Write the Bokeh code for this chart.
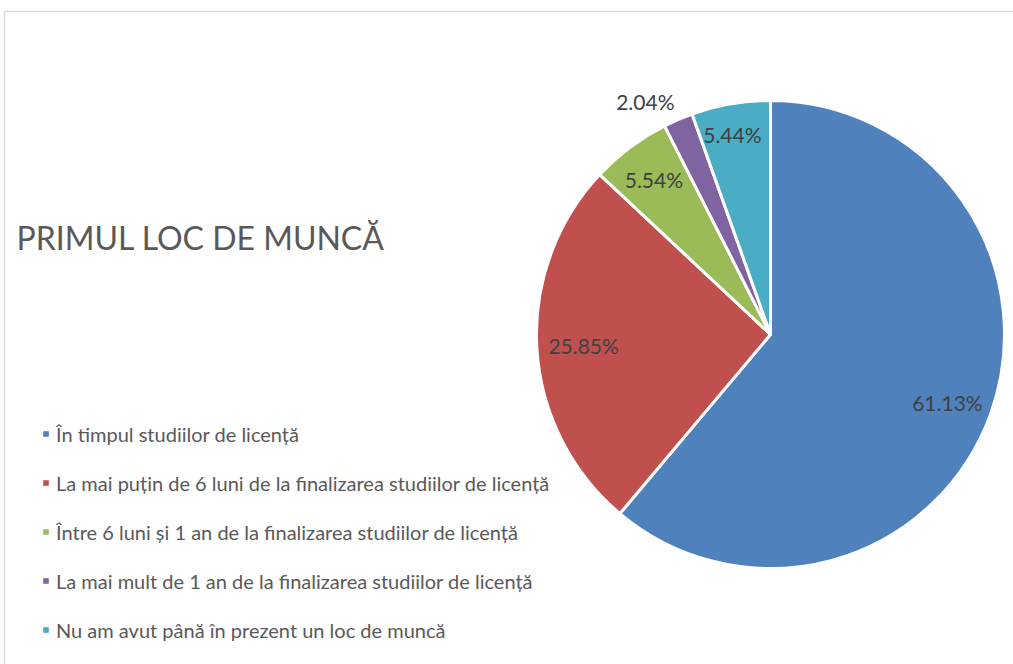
import math
from bokeh.plotting import figure
from bokeh.models import Range1d, ColumnDataSource, Legend, LegendItem, Label
from bokeh.core.properties import value
from bokeh.embed import file_html
from bokeh.resources import INLINE

categories = [
    "În timpul studiilor de licență",
    "La mai puțin de 6 luni de la finalizarea studiilor de licență",
    "Între 6 luni și 1 an de la finalizarea studiilor de licență",
    "La mai mult de 1 an de la finalizarea studiilor de licență",
    "Nu am avut până în prezent un loc de muncă",
]
shares = [61.13, 25.85, 5.54, 2.04, 5.44]
colors = ["#4F81BD", "#C0504D", "#9BBB59", "#8064A2", "#4BACC6"]
title_text = "PRIMUL LOC DE MUNCĂ"

# label placement (fraction of radius, angular nudge in degrees)
label_r = [0.81, 0.80, 0.83, 1.13, 0.87]
label_nudge = [1.0, 0.0, 0.0, -5.0, -1.0]

W, H = 1013, 664
CX, CY, R = 770, H - 334, 234
FONT = "Lato"

total = sum(shares)
starts, ends, lx, ly, ltxt = [], [], [], [], []
cum = 0.0
for i, s in enumerate(shares):
    a0 = math.pi / 2 - 2 * math.pi * cum / total
    cum += s
    a1 = math.pi / 2 - 2 * math.pi * cum / total
    starts.append(a0)
    ends.append(a1)
    mid = (a0 + a1) / 2 - math.radians(label_nudge[i])
    lx.append(CX + R * label_r[i] * math.cos(mid))
    ly.append(CY + R * label_r[i] * math.sin(mid))
    ltxt.append(f"{s:.2f}%")

src = ColumnDataSource(dict(cat=categories, start=starts, end=ends, color=colors,
                            x=[CX] * len(shares), y=[CY] * len(shares)))
lsrc = ColumnDataSource(dict(x=lx, y=ly, t=ltxt))

p = figure(width=W, height=H, output_backend="svg", toolbar_location=None,
           x_range=Range1d(0, W), y_range=Range1d(0, H), min_border=0)
p.axis.visible = False
p.grid.visible = False
p.outline_line_color = None
p.background_fill_color = "white"

# frame lines of the chart area
p.segment(x0=[4], y0=[H - 11], x1=[W], y1=[H - 11], line_color="#D9D9D9", line_width=1.5)
p.segment(x0=[4], y0=[H - 11], x1=[4], y1=[0], line_color="#D9D9D9", line_width=1.5)

w = p.wedge(x="x", y="y", radius=R, start_angle="start", end_angle="end",
            direction="clock", fill_color="color", line_color="white",
            line_width=3, source=src)

p.text(x="x", y="y", text="t", source=lsrc, text_font=value(FONT),
       text_font_size="21px", text_color="#404040", text_align="center",
       text_baseline="middle")

p.add_layout(Label(x=16, y=H - 237, text=title_text, text_font=FONT,
                   text_font_size="32px", text_color="#595959",
                   text_baseline="middle"))

# legend swatches: zero-area square glyphs carrying each slice colour
swatches = []
for c in colors:
    r = p.quad(left=[CX], right=[CX], top=[CY], bottom=[CY],
               fill_color=c, line_color=None)
    swatches.append(r)

legend = Legend(items=[LegendItem(label=value(cat), renderers=[r])
                       for cat, r in zip(categories, swatches)],
                location=(42, 22), orientation="vertical",
                glyph_width=7, glyph_height=7, label_standoff=7,
                label_text_font=FONT, label_text_font_size="20px",
                label_text_color="#595959", label_height=25, spacing=24,
                padding=0, margin=0, border_line_color=None,
                background_fill_alpha=0)
p.add_layout(legend)

open("out.html", "w").write(file_html(p, INLINE))
